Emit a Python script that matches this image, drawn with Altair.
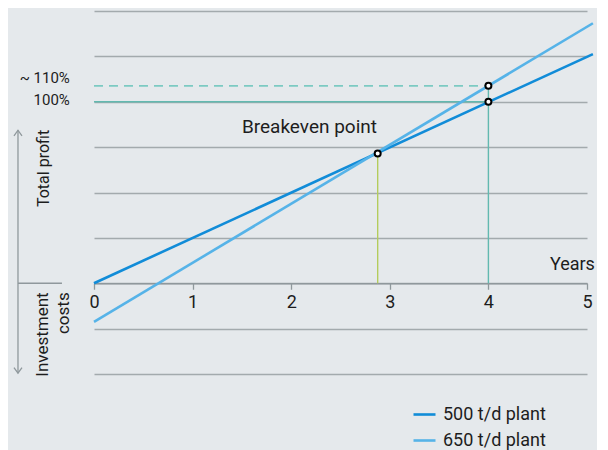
import altair as alt
import pandas as pd

# ---- data (years on x, profit in grid units on y; 4 units = 100%) ----
plants = ["500 t/d plant", "650 t/d plant"]
line_years = [0.0, 5.06]
profit_500 = [0.0, 5.05]
profit_650 = [-0.85, 5.73]

breakeven = (2.877, 2.857)
year4_500 = (4.0, 4.0)
year4_650 = (4.0, 4.35)

x_ticks = [0, 1, 2, 3, 4, 5]
y_grid = [-2, -1, 0, 1, 2, 3, 4, 5, 6]

FONT = "Roboto"
TXT = "#1d1d1d"
GRAY = "#8f989c"
GRID = "#a3aaad"
C500 = "#118cd8"
C650 = "#56b3e8"
TEAL = "#62b9b0"
TEAL_D = "#7ccac2"
GREEN = "#b4cc5c"

lines_df = pd.DataFrame({
    "year": line_years * 2,
    "profit": profit_500 + profit_650,
    "plant": [plants[0]] * 2 + [plants[1]] * 2,
})

xs = alt.Scale(domain=[0, 5], nice=False, zero=False)
ys = alt.Scale(domain=[-2, 6], nice=False, zero=False)

xax = alt.Axis(values=x_ticks, format="d", grid=False, offset=-90.75, title=None,
               domainColor=GRAY, domainWidth=1.3, tickColor=GRAY, tickWidth=1.3,
               tickSize=6, labelFont=FONT, labelFontSize=18, labelColor=TXT,
               labelPadding=4, labelAngle=0, labelFlush=False)
yax = alt.Axis(values=y_grid, grid=True, gridColor=GRID, gridWidth=1.3,
               labels=False, ticks=False, domain=False, title=None)

base = alt.Chart(lines_df)

grid = base.mark_line(opacity=0).encode(
    x=alt.X("year:Q", scale=xs, axis=xax),
    y=alt.Y("profit:Q", scale=ys, axis=yax),
)

# reference lines
ref_h = pd.DataFrame({"x": [0.0, 0.0], "x2": [year4_500[0], year4_650[0]],
                      "y": [year4_500[1], year4_650[1]], "kind": ["solid", "dash"]})
h_solid = alt.Chart(ref_h[ref_h.kind == "solid"]).mark_rule(color=TEAL, strokeWidth=1.6).encode(
    x=alt.X("x:Q", scale=xs), x2="x2:Q", y=alt.Y("y:Q", scale=ys))
h_dash = alt.Chart(ref_h[ref_h.kind == "dash"]).mark_rule(color=TEAL_D, strokeWidth=1.6,
                                                          strokeDash=[9, 6]).encode(
    x=alt.X("x:Q", scale=xs), x2="x2:Q", y=alt.Y("y:Q", scale=ys))

ref_v = pd.DataFrame({"x": [breakeven[0], year4_650[0]], "y": [0.0, 0.0],
                      "y2": [breakeven[1], year4_650[1]], "c": [GREEN, TEAL]})
v_rules = alt.Chart(ref_v).mark_rule(strokeWidth=1.4).encode(
    x=alt.X("x:Q", scale=xs), y=alt.Y("y:Q", scale=ys), y2="y2:Q",
    color=alt.Color("c:N", scale=None))

plant_lines = base.mark_line(strokeWidth=2.6).encode(
    x=alt.X("year:Q", scale=xs),
    y=alt.Y("profit:Q", scale=ys),
    color=alt.Color("plant:N", scale=alt.Scale(domain=plants, range=[C500, C650]),
                    legend=alt.Legend(orient="none", legendX=318, legendY=391,
                                      title=None, symbolType="stroke", symbolSize=484,
                                      symbolStrokeWidth=2.6, labelFont=FONT,
                                      labelFontSize=18, labelColor=TXT, labelOffset=6,
                                      rowPadding=4, padding=0)),
)

pts_df = pd.DataFrame({"x": [breakeven[0], year4_500[0], year4_650[0]],
                       "y": [breakeven[1], year4_500[1], year4_650[1]]})
pts = alt.Chart(pts_df).mark_point(shape="circle", filled=True, fill="white",
                                   stroke="black", strokeWidth=2, size=36, opacity=1).encode(
    x=alt.X("x:Q", scale=xs), y=alt.Y("y:Q", scale=ys))

# annotations
ann = pd.DataFrame({
    "x": [1.50, 5.08],
    "y": [3.306, 0.286],
    "t": ["Breakeven point", "Years"],
})
t_break = alt.Chart(ann.iloc[[0]]).mark_text(font=FONT, fontSize=19, color=TXT,
                                              align="left", baseline="alphabetic").encode(
    x=alt.X("x:Q", scale=xs), y=alt.Y("y:Q", scale=ys), text="t:N")
t_years = alt.Chart(ann.iloc[[1]]).mark_text(font=FONT, fontSize=18, color=TXT,
                                              align="right", baseline="alphabetic").encode(
    x=alt.X("x:Q", scale=xs), y=alt.Y("y:Q", scale=ys), text="t:N")

pct = pd.DataFrame({"x": [-0.245, -0.245], "y": [4.52, 4.03], "t": ["~ 110%", "100%"]})
t_pct = alt.Chart(pct).mark_text(font=FONT, fontSize=15, color=TXT, align="right",
                                 baseline="middle").encode(
    x=alt.X("x:Q", scale=xs), y=alt.Y("y:Q", scale=ys), text="t:N")

side = pd.DataFrame({"x": [-0.507], "y": [2.53], "t": ["Total profit"]})
t_side = alt.Chart(side).mark_text(font=FONT, fontSize=16, color=TXT, align="center",
                                   baseline="middle", angle=270).encode(
    x=alt.X("x:Q", scale=xs), y=alt.Y("y:Q", scale=ys), text="t:N")

inv = pd.DataFrame({"x": [-0.517, -0.304], "y": [-0.2, -0.2], "t": ["Investment", "costs"]})
t_inv = alt.Chart(inv).mark_text(font=FONT, fontSize=17, color=TXT, align="right",
                                 baseline="middle", angle=270).encode(
    x=alt.X("x:Q", scale=xs), y=alt.Y("y:Q", scale=ys), text="t:N")

# left arrow graphic
arrow_v = pd.DataFrame({"x": [-0.771], "y": [3.372], "y2": [-1.983]})
a_v = alt.Chart(arrow_v).mark_rule(color=GRAY, strokeWidth=1.3).encode(
    x=alt.X("x:Q", scale=xs), y=alt.Y("y:Q", scale=ys), y2="y2:Q")
arrow_h = pd.DataFrame({"x": [-0.771], "x2": [-0.325], "y": [0.0]})
a_h = alt.Chart(arrow_h).mark_rule(color=GRAY, strokeWidth=1.3).encode(
    x=alt.X("x:Q", scale=xs), x2="x2:Q", y=alt.Y("y:Q", scale=ys))
head_up = alt.Chart(pd.DataFrame({"x": [-0.771], "y": [3.372]})).mark_point(
    shape="M-1,1.4L0,0L1,1.4", filled=False, stroke=GRAY, strokeWidth=1.3, size=64,
    opacity=1).encode(x=alt.X("x:Q", scale=xs), y=alt.Y("y:Q", scale=ys))
head_dn = alt.Chart(pd.DataFrame({"x": [-0.771], "y": [-1.983]})).mark_point(
    shape="M-1,-1.4L0,0L1,-1.4", filled=False, stroke=GRAY, strokeWidth=1.3, size=64,
    opacity=1).encode(x=alt.X("x:Q", scale=xs), y=alt.Y("y:Q", scale=ys))

chart = alt.layer(
    grid, h_solid, h_dash, v_rules, a_v, a_h, head_up, head_dn,
    plant_lines, pts, t_break, t_years, t_pct, t_side, t_inv,
).properties(
    width=493, height=363,
    autosize=alt.AutoSizeParams(type="none"),
    padding={"left": 86, "top": 3, "right": 10, "bottom": 76},
    background="#e5e9ec",
).configure_view(stroke=None)

chart.save("out.html", embed_options={"renderer": "svg", "actions": False})
